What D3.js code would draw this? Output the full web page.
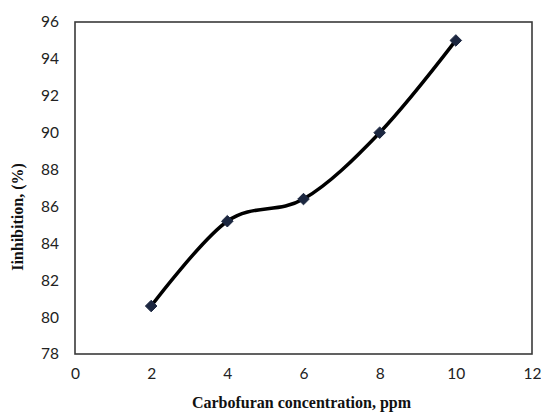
<!DOCTYPE html>
<html>
<head>
<meta charset="utf-8">
<script src="https://cdn.jsdelivr.net/npm/d3@7"></script>
<style>
  html, body { margin: 0; padding: 0; background: #fff; }
  svg { display: block; }
</style>
</head>
<body>
<svg id="chart" width="541" height="412"></svg>
<script>
// Carbofuran concentration (ppm) vs. inhibition (%)
const concentrations = [2, 4, 6, 8, 10];
const inhibition = [80.6, 85.2, 86.4, 90.0, 95.0];
const xTicks = [0, 2, 4, 6, 8, 10, 12];
const yTicks = [78, 80, 82, 84, 86, 88, 90, 92, 94, 96];

const svg = d3.select("#chart");
const margin = { left: 75, right: 9, top: 22, bottom: 58 };
const W = 541, H = 412;

const x = d3.scaleLinear().domain([0, 12]).range([margin.left, W - margin.right]);
const y = d3.scaleLinear().domain([78, 96]).range([H - margin.bottom, margin.top]);

// plot-area frame
svg.append("rect")
  .attr("x", x(0)).attr("y", y(96))
  .attr("width", x(12) - x(0)).attr("height", y(78) - y(96))
  .attr("fill", "none").attr("stroke", "#3a3a3a").attr("stroke-width", 1.6);

const tickFont = "Lato, 'Open Sans', sans-serif";

const yAxis = svg.append("g")
  .attr("transform", `translate(${x(0) - 16},0)`)
  .call(d3.axisLeft(y).tickValues(yTicks).tickSize(0).tickPadding(0));
yAxis.select(".domain").remove();
yAxis.selectAll("text").attr("font-family", tickFont).attr("font-size", 15.5).attr("fill", "#222");

const xAxis = svg.append("g")
  .attr("transform", `translate(0,${y(78) + 14})`)
  .call(d3.axisBottom(x).tickValues(xTicks).tickSize(0).tickPadding(0));
xAxis.select(".domain").remove();
xAxis.selectAll("text").attr("font-family", tickFont).attr("font-size", 15.5).attr("fill", "#222");

// smoothed series line
const pts = concentrations.map((c, i) => [c, inhibition[i]]);
const line = d3.line()
  .x(d => x(d[0])).y(d => y(d[1]))
  .curve(d3.curveCardinal.tension(0));
svg.append("path")
  .attr("d", line(pts))
  .attr("fill", "none").attr("stroke", "#000").attr("stroke-width", 3.5)
  .attr("stroke-linecap", "round");

// diamond markers
const diamond = d3.symbol().type(d3.symbolDiamond2).size(85);
svg.selectAll("path.marker").data(pts).join("path")
  .attr("class", "marker")
  .attr("d", diamond)
  .attr("transform", d => `translate(${x(d[0])},${y(d[1])})`)
  .attr("fill", "#1c2740").attr("stroke", "#1c2740").attr("stroke-width", 1);

// axis titles
const titleFont = "'Liberation Serif', 'Times New Roman', serif";
svg.append("text")
  .attr("x", (x(0) + x(12)) / 2 - 2).attr("y", 408)
  .attr("text-anchor", "middle")
  .attr("font-family", titleFont)
  .attr("font-weight", "bold").attr("font-size", 16).attr("fill", "#111")
  .text("Carbofuran concentration, ppm");

svg.append("text")
  .attr("transform", `translate(23,${(y(78) + y(96)) / 2 + 29}) rotate(-90)`)
  .attr("text-anchor", "middle")
  .attr("font-family", titleFont)
  .attr("font-weight", "bold").attr("font-size", 16).attr("fill", "#111")
  .text("Iinhibition, (%)");
</script>
</body>
</html>
